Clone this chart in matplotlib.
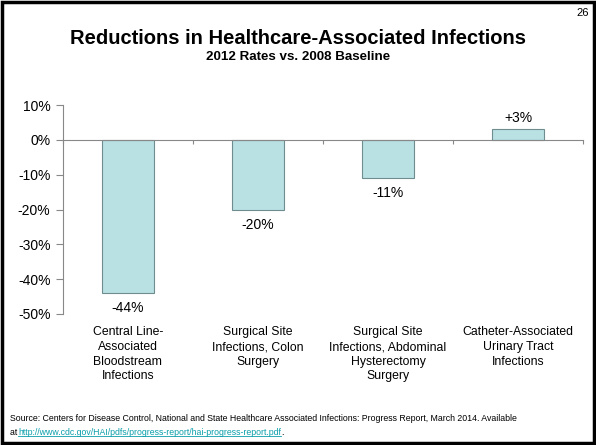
import matplotlib
matplotlib.use("Agg")
import matplotlib.pyplot as plt
from matplotlib.patches import Rectangle
from matplotlib.ticker import FuncFormatter

plt.rcParams['font.family'] = ['Liberation Sans', 'DejaVu Sans']

categories = ["Central Line-\nAssociated\nBloodstream\nInfections",
              "Surgical Site\nInfections, Colon\nSurgery",
              "Surgical Site\nInfections, Abdominal\nHysterectomy\nSurgery",
              "Catheter-Associated\nUrinary Tract\nInfections"]
changes = [-44, -20, -11, 3]
yticks = [10, 0, -10, -20, -30, -40, -50]

fig = plt.figure(figsize=(5.96, 4.45), dpi=100)
ax = fig.add_axes([0.1057, 0.2944, 0.8725, 0.4696])

x = list(range(len(categories)))
ax.bar(x, changes, width=0.4, color="#B9E0E3", edgecolor="#6F8D8F", linewidth=0.8, zorder=2)

ax.set_xlim(-0.5, len(categories) - 0.5)
ax.set_ylim(-50, 10)
ax.set_yticks(yticks)
ax.yaxis.set_major_formatter(FuncFormatter(lambda v, p: f"{v:.0f}%"))
ax.tick_params(axis="y", length=5, width=0.8, color="#888888", labelsize=10, pad=4)

# zero line doubles as the category axis
ax.spines["bottom"].set_position(("data", 0))
for s in ["top", "right"]:
    ax.spines[s].set_visible(False)
for s in ["left", "bottom"]:
    ax.spines[s].set_color("#888888")
    ax.spines[s].set_linewidth(0.8)
ax.set_xticks([i - 0.5 for i in range(len(categories) + 1)])
ax.set_xticklabels([])
ax.tick_params(axis="x", direction="out", length=3, width=0.8, color="#888888")

for i, v in enumerate(changes):
    label = f"+{v}%" if v > 0 else f"{v}%"
    off = 8 if v > 0 else -11
    ax.annotate(label, (i, v), xytext=(0, off), textcoords="offset points",
                ha="center", va="center", fontsize=10)

for i, c in enumerate(categories):
    ax.annotate(c, (i, -50), xytext=(0, -9), textcoords="offset points",
                ha="center", va="top", fontsize=8.8, linespacing=1.28)

fig.text(0.5, 0.913, "Reductions in Healthcare-Associated Infections",
         ha="center", va="center", fontsize=14.5, fontweight="bold")
fig.text(0.5, 0.871, "2012 Rates vs. 2008 Baseline",
         ha="center", va="center", fontsize=9.6, fontweight="bold")
fig.text(0.988, 0.982, "26", ha="right", va="top", fontsize=8)

fig.text(0.017, 0.06,
         "Source: Centers for Disease Control, National and State Healthcare Associated Infections: Progress Report, March 2014. Available",
         ha="left", va="center", fontsize=6.3)
fig.text(0.017, 0.029, "at ", ha="left", va="center", fontsize=6.3)
link = fig.text(0.031, 0.029, "http://www.cdc.gov/HAI/pdfs/progress-report/hai-progress-report.pdf",
                ha="left", va="center", fontsize=6.3, color="#0A9EAA")
fig.canvas.draw()
bb = link.get_window_extent()
inv = fig.transFigure.inverted()
(x0, y0), (x1, y1) = inv.transform([(bb.x0, bb.y0), (bb.x1, bb.y1)])
fig.add_artist(plt.Line2D([x0, x1], [y0 + 0.002, y0 + 0.002], color="#0A9EAA", lw=0.6,
                          transform=fig.transFigure))
fig.text(x1, 0.029, ".", ha="left", va="center", fontsize=6.3)

# slide frame
fig.add_artist(Rectangle((0.003, 0.004), 0.993, 0.992, transform=fig.transFigure,
                         fill=False, edgecolor="black", linewidth=2.5))

fig.savefig("out.png", dpi=100)
